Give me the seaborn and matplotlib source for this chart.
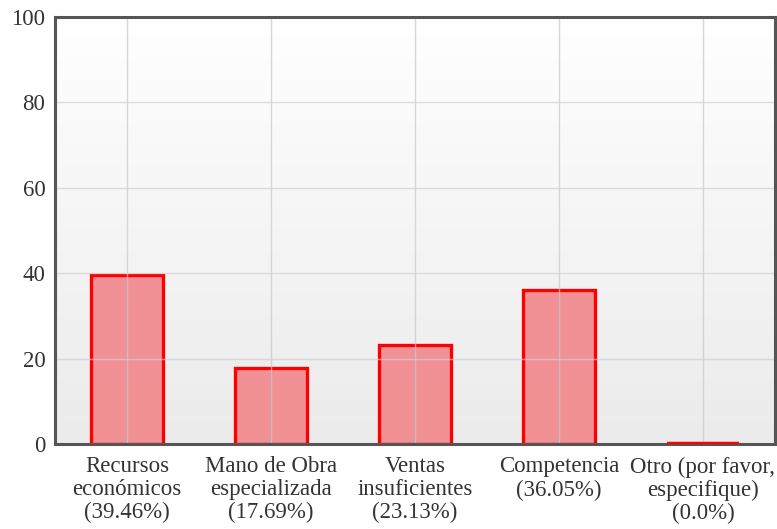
import numpy as np
import pandas as pd
import matplotlib
matplotlib.use("Agg")
import matplotlib.pyplot as plt
import seaborn as sns
from matplotlib.colors import LinearSegmentedColormap

categories = ["Recursos\neconómicos\n(39.46%)",
              "Mano de Obra\nespecializada\n(17.69%)",
              "Ventas\ninsuficientes\n(23.13%)",
              "Competencia\n(36.05%)",
              "Otro (por favor,\nespecifique)\n(0.0%)"]
values = [39.46, 17.69, 23.13, 36.05, 0.0]
yticks = [0, 20, 40, 60, 80, 100]

sns.set_theme(style="white")
plt.rcParams['font.family'] = ['Liberation Serif', 'DejaVu Serif']

df = pd.DataFrame({"cat": categories, "val": values})

fig = plt.figure(figsize=(7.77, 5.29), dpi=100)
ax = fig.add_axes([0.0708, 0.1607, 0.9266, 0.8072])

# gradient background: white at top, light gray at bottom
grad = np.linspace(0, 1, 256).reshape(-1, 1)
cmap = LinearSegmentedColormap.from_list("bg", ["#ffffff", "#ebebeb"])
ax.imshow(grad, aspect="auto", cmap=cmap, extent=[0, 1, 0, 1], origin="upper",
          transform=ax.transAxes, zorder=0)

sns.barplot(data=df, x="cat", y="val", ax=ax, width=0.5,
            color="#f28b8d", zorder=2)
for p in ax.patches:
    p.set_facecolor((0.95, 0.53, 0.545, 0.9))
    p.set_edgecolor("#ff0000")
    p.set_linewidth(2.4)
    if p.get_height() == 0:
        p.set_zorder(6)
        p.set_linewidth(3.2)

ax.set_ylim(0, 100)
ax.set_xlim(-0.5, 4.5)
ax.set_yticks(yticks)
ax.set_yticklabels([str(v) for v in yticks])
ax.set_xlabel("")
ax.set_ylabel("")

for i in range(len(categories)):
    ax.axvline(i, color="#c8c8c8", lw=1, zorder=3, alpha=0.7)
for y in yticks[1:-1]:
    ax.axhline(y, color="#d0d0d0", lw=1, zorder=3, alpha=0.7)

for s in ax.spines.values():
    s.set_visible(True)
    s.set_color("#555555")
    s.set_linewidth(2.2)
    s.set_zorder(5)

ax.tick_params(axis="both", length=0, labelsize=16.5, colors="#333333")
ax.tick_params(axis="y", pad=7)
ax.tick_params(axis="x", pad=9)
for lab in ax.get_xticklabels():
    lab.set_linespacing(1.12)

fig.savefig("out.png", dpi=100)
